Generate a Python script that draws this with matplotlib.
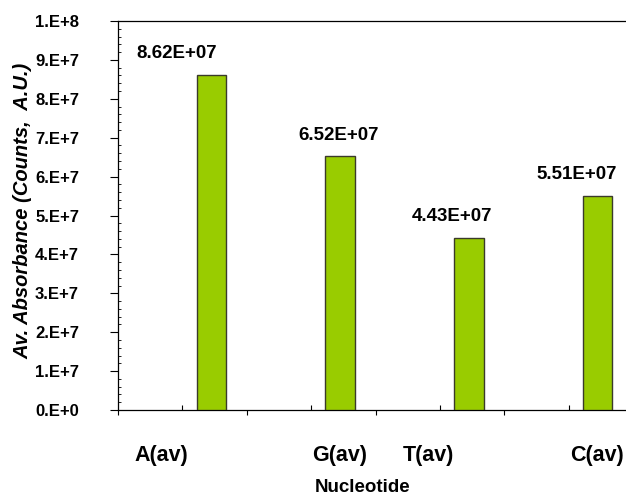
import matplotlib
matplotlib.use("Agg")
import matplotlib.pyplot as plt
from matplotlib.ticker import MultipleLocator, FixedLocator

categories = ["A(av)", "G(av)", "T(av)", "C(av)"]
values = [8.62e7, 6.52e7, 4.43e7, 5.51e7]
value_labels = ["8.62E+07", "6.52E+07", "4.43E+07", "5.51E+07"]
yticks = [0, 1e7, 2e7, 3e7, 4e7, 5e7, 6e7, 7e7, 8e7, 9e7, 1e8]
ytick_labels = ["0.E+0", "1.E+7", "2.E+7", "3.E+7", "4.E+7", "5.E+7",
                "6.E+7", "7.E+7", "8.E+7", "9.E+7", "1.E+8"]

# layout (not data)
bar_offset = 0.225
bar_width = 0.23
cat_label_dx = [-0.16, 0.225, -0.09, 0.22]
val_label_dx_px = [-35, -1, -17, -21]

font = ["Liberation Sans", "DejaVu Sans"]
plt.rcParams["font.family"] = font

fig = plt.figure(figsize=(6.26, 4.97), dpi=100)
ax = fig.add_axes([118/626, 1-410/497, 515/626, 389/497])

x = list(range(len(categories)))
xb = [i + bar_offset for i in x]
ax.bar(xb, values, width=bar_width, color="#99CC00",
       edgecolor="#3a3a2a", linewidth=1.0, zorder=3)

for xi, v, lab, dx in zip(xb, values, value_labels, val_label_dx_px):
    ax.annotate(lab, (xi, v), xytext=(dx*0.72, 15), textcoords="offset points",
                ha="center", va="center", fontsize=13.5, fontweight="bold")

ax.set_xlim(-0.5, 3.5)
ax.set_ylim(0, 1e8)

ax.yaxis.set_major_locator(FixedLocator(yticks))
ax.set_yticklabels(ytick_labels, fontsize=12, fontweight="bold")
ax.yaxis.set_minor_locator(MultipleLocator(2e6))
ax.tick_params(axis="y", which="major", direction="out", length=6, width=0.8, pad=22)
ax.tick_params(axis="y", which="minor", direction="in", length=2.5, width=0.6)

ax.xaxis.set_major_locator(FixedLocator([-0.5, 0.5, 1.5, 2.5]))
ax.xaxis.set_minor_locator(FixedLocator(x))
ax.set_xticklabels([])
ax.tick_params(axis="x", which="major", direction="out", length=3.5, width=0.8)
ax.tick_params(axis="x", which="minor", direction="in", length=3.5, width=0.8)

for i, (lab, dx) in enumerate(zip(categories, cat_label_dx)):
    ax.text(i + dx, -45/389, lab, transform=ax.get_xaxis_transform(),
            ha="center", va="center", fontsize=15.5, fontweight="bold")

ax.spines["right"].set_visible(False)
for s in ["left", "bottom", "top"]:
    ax.spines[s].set_linewidth(0.9)

fig.text(363/626, 1-488/497, "Nucleotide", ha="center", va="center",
         fontsize=13.5, fontweight="bold")
fig.text(23/626, 1-211/497, "Av. Absorbance (Counts,  A.U.)", ha="center",
         va="center", rotation=90, fontsize=14.5, fontweight="bold", style="italic")

fig.savefig("out.png", dpi=100)
